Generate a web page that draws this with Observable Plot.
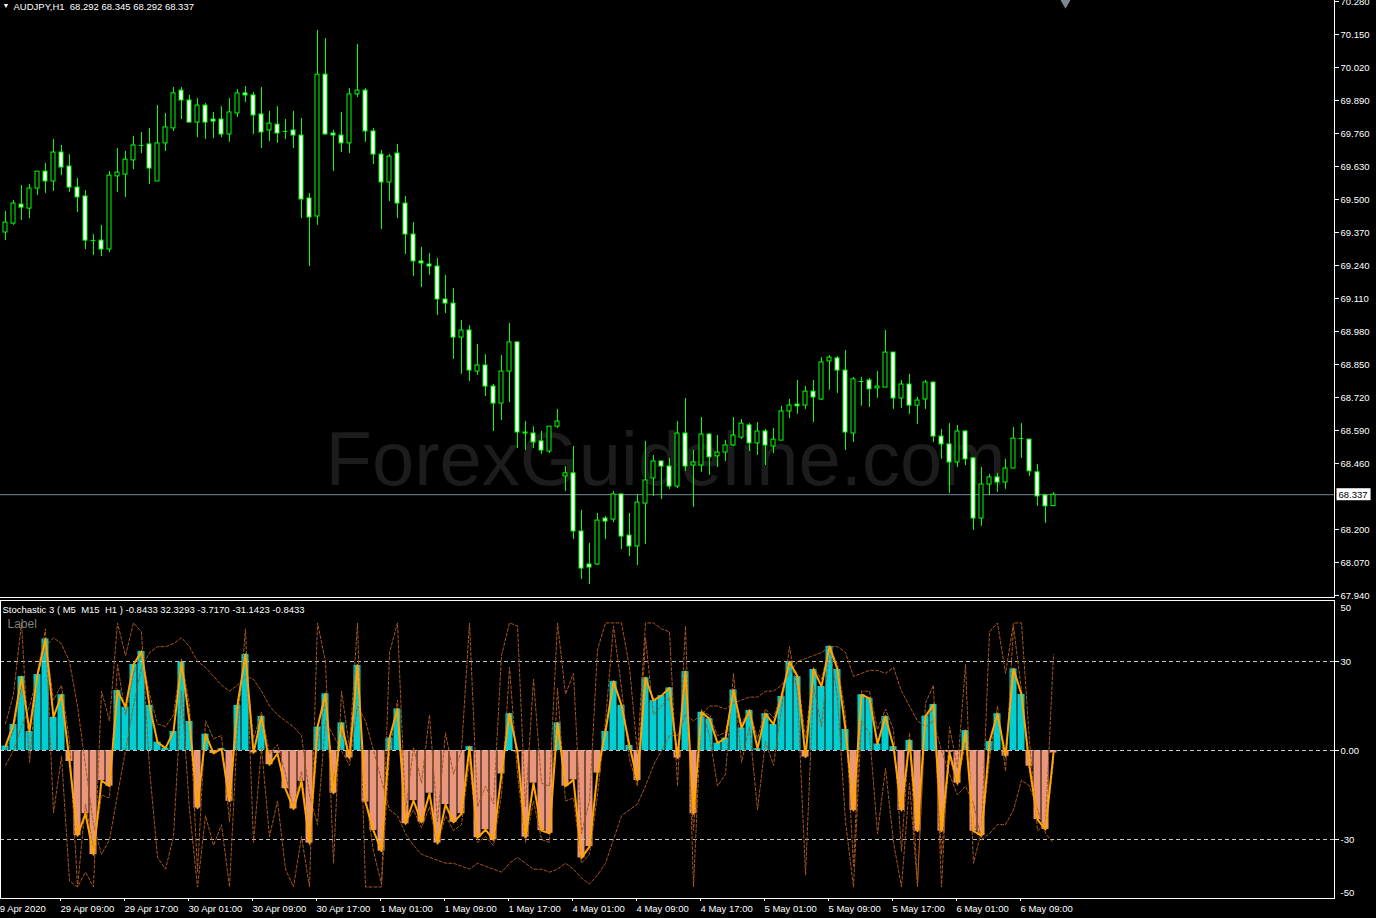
<!DOCTYPE html>
<html><head><meta charset="utf-8">
<script src="https://cdn.jsdelivr.net/npm/d3@7"></script>
<script src="https://cdn.jsdelivr.net/npm/@observablehq/plot@0.6"></script>
<style>
html,body{margin:0;padding:0;background:#000;overflow:hidden;}
#chart{width:1376px;height:918px;background:#000;}
svg{display:block;}
svg text{white-space:pre;}
</style></head><body><div id="chart"></div>
<script>
// ---------- DATA ----------
const symbolTitle = "AUDJPY,H1";
const lastOHLC = [68.292, 68.345, 68.292, 68.337];
const opens = [69.370,69.405,69.480,69.464,69.543,69.610,69.571,69.685,69.630,69.547,
69.512,69.338,69.338,69.303,69.591,69.598,69.654,69.713,69.717,69.571,
69.721,69.780,69.929,69.890,69.803,69.870,69.815,69.815,69.756,69.839,
69.918,69.910,69.835,69.772,69.795,69.768,69.772,69.752,69.504,69.433,
69.992,69.760,69.752,69.721,69.914,69.929,69.768,69.677,69.567,69.681,
69.484,69.362,69.256,69.244,69.236,69.106,69.090,68.956,68.984,68.822,
68.846,68.763,68.696,68.822,68.937,68.582,68.578,68.547,68.507,68.605,
68.409,68.421,68.192,68.062,68.062,68.243,68.239,68.338,68.176,68.133,
68.302,68.401,68.468,68.448,68.369,68.578,68.452,68.452,68.574,68.488,
68.503,68.531,68.562,68.610,68.539,68.586,68.527,68.550,68.665,68.692,
68.688,68.743,68.712,68.862,68.874,68.826,68.578,68.783,68.787,68.756,
68.759,68.897,68.716,68.771,68.688,68.712,68.779,68.566,68.535,68.464,
68.586,68.480,68.243,68.377,68.405,68.385,68.440,68.558,68.554,68.425,
68.334,68.292];
const highs = [69.453,69.496,69.555,69.559,69.610,69.642,69.736,69.713,69.677,69.583,
69.535,69.362,69.398,69.610,69.701,69.689,69.748,69.764,69.780,69.870,
69.839,69.941,69.941,69.910,69.898,69.878,69.843,69.866,69.898,69.933,
69.945,69.922,69.941,69.847,69.866,69.815,69.847,69.819,69.524,70.166,
70.134,69.772,69.843,69.937,70.111,69.937,69.780,69.693,69.677,69.717,
69.512,69.409,69.311,69.287,69.268,69.201,69.149,69.023,69.003,68.929,
68.889,68.771,68.885,69.011,68.937,68.625,68.605,68.586,68.605,68.673,
68.448,68.527,68.275,68.145,68.263,68.251,68.349,68.338,68.263,68.338,
68.547,68.491,68.468,68.480,68.625,68.716,68.511,68.641,68.578,68.570,
68.551,68.641,68.633,68.617,68.621,68.594,68.598,68.685,68.712,68.787,
68.763,68.787,68.877,68.885,68.881,68.905,68.799,68.799,68.795,68.822,
68.984,68.897,68.787,68.811,68.720,68.787,68.779,68.594,68.617,68.610,
68.590,68.484,68.444,68.417,68.421,68.476,68.602,68.617,68.554,68.456,
68.334,68.345];
const lows = [69.338,69.398,69.417,69.425,69.516,69.524,69.532,69.594,69.528,69.449,
69.303,69.279,69.275,69.291,69.528,69.508,69.618,69.681,69.559,69.571,
69.689,69.768,69.815,69.803,69.744,69.736,69.740,69.744,69.725,69.823,
69.882,69.756,69.701,69.728,69.721,69.736,69.701,69.425,69.236,69.398,
69.756,69.610,69.685,69.681,69.902,69.725,69.638,69.382,69.492,69.425,
69.283,69.197,69.153,69.201,69.043,69.051,68.870,68.811,68.783,68.807,
68.724,68.586,68.629,68.700,68.519,68.511,68.519,68.495,68.499,68.598,
68.349,68.160,68.003,67.983,68.058,68.160,68.227,68.121,68.093,68.058,
68.141,68.330,68.318,68.358,68.361,68.429,68.287,68.425,68.413,68.444,
68.468,68.527,68.554,68.507,68.492,68.452,68.499,68.550,68.637,68.653,
68.673,68.621,68.708,68.748,68.736,68.511,68.543,68.685,68.681,68.716,
68.759,68.673,68.677,68.653,68.614,68.673,68.543,68.476,68.342,68.444,
68.452,68.196,68.212,68.334,68.346,68.358,68.440,68.480,68.409,68.291,
68.224,68.292];
const closes = [69.409,69.484,69.468,69.543,69.610,69.571,69.685,69.626,69.547,69.508,
69.338,69.338,69.303,69.594,69.606,69.657,69.713,69.713,69.622,69.721,
69.784,69.918,69.890,69.803,69.870,69.803,69.807,69.756,69.843,69.918,
69.910,69.831,69.764,69.799,69.760,69.768,69.752,69.500,69.429,69.992,
69.756,69.752,69.721,69.914,69.929,69.768,69.677,69.567,69.669,69.484,
69.362,69.256,69.248,69.236,69.106,69.090,68.956,68.984,68.826,68.846,
68.763,68.696,68.822,68.937,68.582,68.578,68.543,68.511,68.605,68.625,
68.421,68.192,68.046,68.050,68.235,68.231,68.338,68.172,68.133,68.306,
68.393,68.468,68.448,68.369,68.578,68.448,68.464,68.574,68.484,68.503,
68.531,68.570,68.617,68.539,68.586,68.531,68.554,68.665,68.688,68.685,
68.743,68.720,68.858,68.877,68.826,68.582,68.791,68.783,68.752,68.763,
68.897,68.716,68.771,68.688,68.708,68.779,68.566,68.535,68.464,68.586,
68.476,68.243,68.377,68.405,68.385,68.440,68.558,68.558,68.429,68.330,
68.291,68.337];

// Stochastic 3: average of the three time-frames (histogram + orange line)
const stochAvg = [1.5,8.8,24.9,6.4,25.6,37.6,11.2,18.8,-3.7,-28.7,
-21.3,-35.1,-10.1,-12.0,20.2,14.6,29.0,33.4,15.2,2.8,
0.8,6.4,29.8,9.8,-19.4,5.5,-1.0,0.6,-17.1,15.2,
32.4,-0.8,11.5,-4.8,-1.0,-12.9,-19.7,-10.4,-31.2,7.9,
19.1,-14.4,9.3,-2.5,28.7,-17.4,-27.0,-33.9,4.2,14.0,
-24.7,-16.9,-24.2,-14.4,-31.2,-18.2,-24.2,-21.3,1.3,-29.4,
-26.7,-30.1,-7.9,12.4,-0.5,-29.2,-11.0,-27.0,-27.9,9.3,
-12.0,-9.9,-36.2,-32.4,-7.6,6.4,23.3,15.2,1.7,-10.1,
24.5,16.9,18.5,21.1,-2.5,26.6,-21.3,12.9,10.7,2.5,
4.2,20.4,7.6,13.5,0.6,12.4,8.8,18.2,29.9,24.9,
-2.2,27.3,21.6,35.1,27.3,7.1,-20.2,18.8,17.6,2.2,
11.5,1.3,-20.2,3.4,-27.2,11.6,15.5,-27.2,-0.6,-11.0,
6.7,-27.2,-28.7,3.0,12.4,-1.9,27.5,18.9,-5.3,-23.3,
-26.6,-0.8433];
// dashed component lines (M5, M15, H1), centred on zero
const stochM5 = [9,19,43,-4,26,41,-21,-2,-44,-46,
-41,-46,20,10,43,32,43,40,-6,-36,
-40,-29,20,-20,-46,-22,-32,-25,-46,7,
41,-31,1,-29,-17,-40,-46,-29,-46,43,
30,-38,20,1,43,-46,-46,-46,33,43,
-21,1,-11,12,-24,6,-8,0,43,-19,
-12,-18,32,43,42,-19,24,-11,-12,43,
19,26,-28,-17,34,43,43,43,28,-1,
43,43,41,40,-12,42,-46,14,5,-12,
-8,26,-4,8,-20,3,-5,14,35,19,
-42,22,8,35,18,-24,-46,10,6,-28,
-6,-31,-46,-11,-46,16,22,-46,8,-6,
29,-38,-27,40,43,26,43,43,3,-27,
-25,32.3293];
const stochM15 = [0,7,22,8,26,37,17,22,3,-46,
-18,-33,-15,-16,29,12,26,32,19,9,
8,12,31,15,-41,10,4,5,-24,17,
31,4,13,-1,2,-8,-20,-7,-32,2,
17,-11,7,-3,26,-15,-34,-45,-1,17,
-25,-20,-26,-19,-32,-22,-27,-25,-3,-31,
-29,-32,-15,28,-8,-31,-17,-30,-31,21,
-17,-16,-38,-35,-15,10,42,21,-3,-12,
38,12,15,18,-1,24,-27,13,12,5,
6,20,9,14,4,14,11,19,29,26,
4,28,24,35,29,12,-39,20,20,7,
14,7,-34,6,-45,11,14,-35,-2,-12,
3,-25,-29,-3,15,-7,42,20,-7,-23,
-27,-3.7170];
const stochH1 = [-5,0,8,15,25,35,38,36,30,15,
-5,-25,-35,-30,-15,0,15,28,33,35,
35,36,38,35,30,28,25,22,20,22,
25,24,20,15,12,10,8,5,-15,-25,
10,5,0,-5,15,10,0,-10,-20,-22,
-28,-32,-35,-36,-37,-38,-38,-39,-40,-38,
-39,-40,-41,-38,-36,-38,-40,-40,-41,-40,
-38,-40,-43,-45,-42,-38,-30,-22,-20,-18,
-12,-5,0,5,5,12,10,12,15,15,
14,16,17,18,18,20,20,22,26,30,
31,32,33,35,35,33,25,26,27,27,
26,28,20,15,10,8,10,0,-8,-15,
-12,-18,-30,-28,-25,-25,-20,-10,-12,-20,
-28,-31.1423];

const priceTicks = [70.280,70.150,70.020,69.890,69.760,69.630,69.500,69.370,69.240,69.110,
68.980,68.850,68.720,68.590,68.460,68.200,68.070,67.940];
const stochLevels = [30, 0, -30];
const stochEdgeTop = [50];
const stochEdgeBottom = [-50];
const timeTickIndex = [-1.25,7,15,23,31,39,47,55,63,71,79,87,95,103,111,119,127];
const timeTickLabels = ["29 Apr 2020","29 Apr 09:00","29 Apr 17:00","30 Apr 01:00","30 Apr 09:00",
"30 Apr 17:00","1 May 01:00","1 May 09:00","1 May 17:00","4 May 01:00","4 May 09:00",
"4 May 17:00","5 May 01:00","5 May 09:00","5 May 17:00","6 May 01:00","6 May 09:00"];
const indicatorTitle = "Stochastic 3 ( M5  M15  H1 ) -0.8433 32.3293 -3.7170 -31.1423 -0.8433";
const watermark = "ForexGuideline.com";

// ---------- BUILD ----------
const FONT = "'Liberation Sans', Arial, sans-serif";
const candles = opens.map((o, i) => ({i, o, h: highs[i], l: lows[i], c: closes[i]}));
const stoch = stochAvg.map((v, i) => ({i, v}));
const comps = [stochM5, stochM15, stochH1].flatMap((arr, k) => arr.map((v, i) => ({i, v, k})));
const xDomain = [-0.625, 166.125];
const priceDomain = [67.928, 70.284];
const stochDomain = [-49.88, 50.56];
const fmt3 = d3.format(".3f");
const labelByIndex = new Map(timeTickIndex.map((x, k) => [x, timeTickLabels[k]]));
const lastLabel = fmt3(lastOHLC[3]);

const main = Plot.plot({
  width: 1376, height: 598,
  marginLeft: 0, marginRight: 42, marginTop: 0, marginBottom: 0,
  style: {background: "#000", color: "#fff", fontFamily: FONT, fontSize: "9.5px", overflow: "visible"},
  x: {domain: xDomain, axis: null},
  y: {domain: priceDomain, axis: null},
  marks: [
    Plot.text([watermark], {frameAnchor: "middle", dx: -2, dy: 161, fontSize: 76, fill: "#1c1c1c", fontFamily: FONT}),
    Plot.ruleY([lastOHLC[3]], {stroke: "#778899"}),
    Plot.ruleX(candles, {x: "i", y1: "l", y2: "h", stroke: "#00ff00"}),
    Plot.rect(candles.filter(d => d.o !== d.c), {
      x1: d => d.i - 0.25, x2: d => d.i + 0.25,
      y1: d => Math.min(d.o, d.c), y2: d => Math.max(d.o, d.c),
      fill: d => d.c > d.o ? "#000" : "#fff", stroke: "#00ff00", strokeWidth: 1
    }),
    Plot.ruleY(candles.filter(d => d.o === d.c), {x1: d => d.i - 0.3, x2: d => d.i + 0.3, y: "o", stroke: "#00ff00"}),
    Plot.axisY(priceTicks, {anchor: "right", label: null, tickSize: 4, tickPadding: 2, tickFormat: fmt3}),
    Plot.ruleX([xDomain[1]], {stroke: "#fff"}),
    Plot.ruleY([priceDomain[0]], {stroke: "#fff", dy: -1}),
    Plot.text([lastOHLC[3]], {y: d => d, frameAnchor: "right", textAnchor: "start", dx: 4, fill: "#000", text: () => lastLabel}),
    Plot.text(["▼"], {frameAnchor: "top-left", dx: 2, dy: 3, fontSize: 7, fill: "#fff"}),
    Plot.text([symbolTitle + "  " + lastOHLC.map(fmt3).join(" ")], {frameAnchor: "top-left", dx: 13, dy: 2.5, fill: "#fff"}),
    Plot.dot([opens.length + 0.5], {x: d => d, frameAnchor: "top", symbol: "diamond", r: 5, fill: "#7f8790", stroke: null})
  ]
});

const sub = Plot.plot({
  width: 1376, height: 320,
  marginLeft: 0, marginRight: 42, marginTop: 2, marginBottom: 20,
  style: {background: "transparent", color: "#fff", fontFamily: FONT, fontSize: "9.5px", overflow: "hidden"},
  x: {domain: xDomain, axis: null},
  y: {domain: stochDomain, axis: null},
  marks: [
    Plot.rect(stoch, {x1: d => d.i - 0.44, x2: d => d.i + 0.44, y1: 0, y2: "v",
      fill: d => d.v >= 0 ? "#00ced1" : "#e9967a"}),
    Plot.ruleY(stochLevels, {stroke: "#c8c8c8", strokeDasharray: "4,3"}),
    Plot.line(comps, {x: "i", y: "v", z: "k", stroke: "#a8561e", strokeWidth: 1, strokeDasharray: "3,2"}),
    Plot.line(stoch, {x: "i", y: "v", stroke: "#ffa500", strokeWidth: 2}),
    Plot.axisY(stochLevels, {anchor: "right", label: null, tickSize: 4, tickPadding: 2, tickFormat: d => d === 0 ? "0.00" : String(d)}),
    Plot.text(stochEdgeTop, {y: d => d, frameAnchor: "right", textAnchor: "start", dx: 6, dy: 6, text: d => String(d), fill: "#fff"}),
    Plot.text(stochEdgeBottom, {y: d => d, frameAnchor: "right", textAnchor: "start", dx: 6, dy: -6, text: d => String(d), fill: "#fff"}),
    Plot.axisX(timeTickIndex, {anchor: "bottom", label: null, tickSize: 3, tickPadding: 4, textAnchor: "start", dx: -1, tickFormat: d => labelByIndex.get(d)}),
    Plot.frame({stroke: "#fff"}),
    Plot.text([indicatorTitle], {frameAnchor: "top-left", dx: 2, dy: 5.5, fill: "#fff"}),
    Plot.text(["Label"], {frameAnchor: "top-left", dx: 7, dy: 19, fill: "#808080", fontSize: 12})
  ]
});

const root = document.getElementById("chart");
root.appendChild(main);
root.appendChild(sub);

// white box behind the current-price label (sized from the rendered text, same transform)
const priceText = Array.from(main.querySelectorAll("text")).find(t => t.textContent === lastLabel);
if (priceText) {
  const bb = priceText.getBBox();
  const rect = document.createElementNS("http://www.w3.org/2000/svg", "rect");
  rect.setAttribute("x", bb.x - 2);
  rect.setAttribute("y", bb.y - 0.5);
  rect.setAttribute("width", bb.width + 5);
  rect.setAttribute("height", bb.height + 1);
  rect.setAttribute("fill", "#fff");
  const tf = priceText.getAttribute("transform");
  if (tf) rect.setAttribute("transform", tf);
  priceText.parentNode.insertBefore(rect, priceText);
}
</script></body></html>
